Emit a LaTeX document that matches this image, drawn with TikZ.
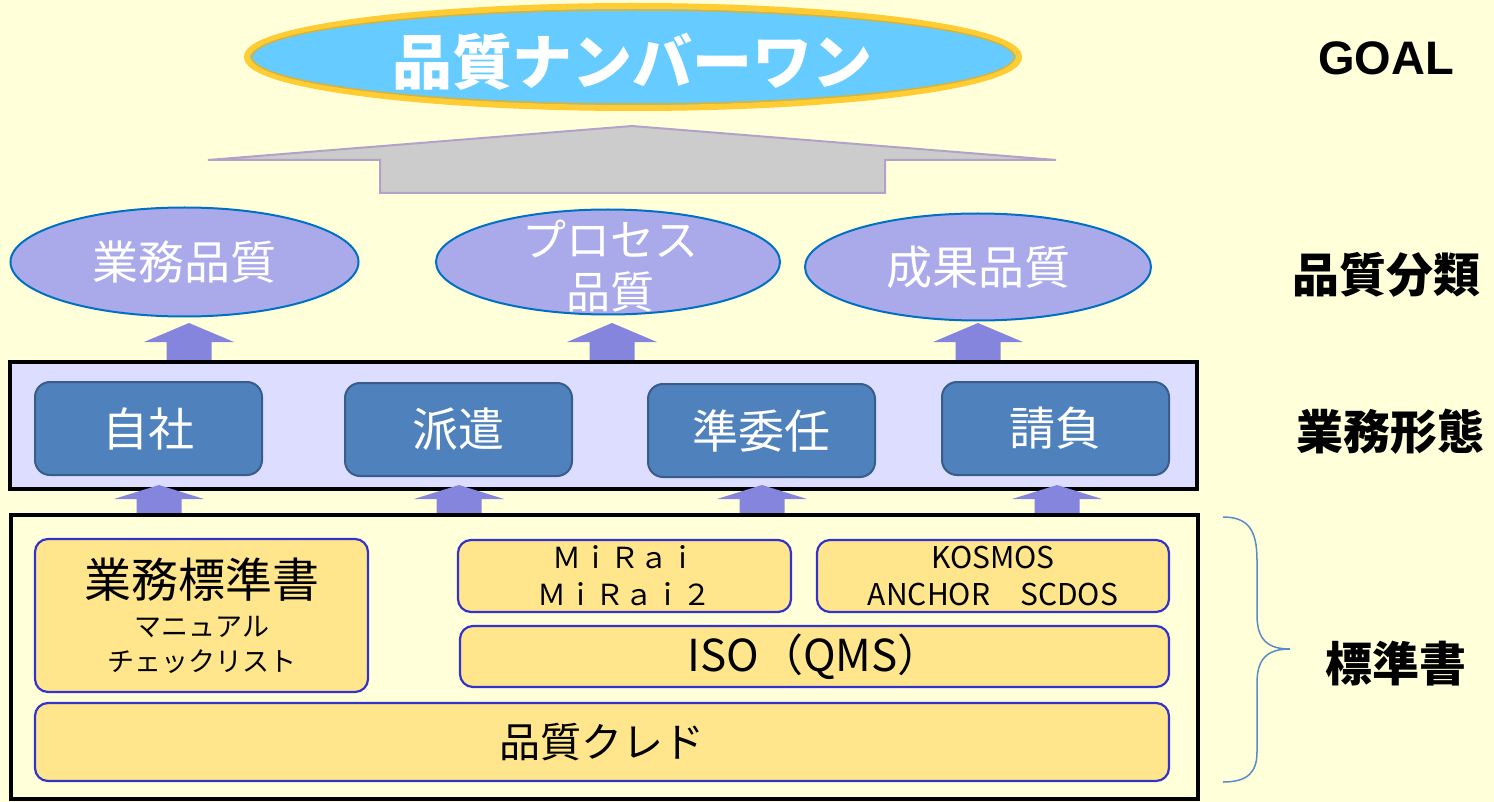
\documentclass[tikz,border=0pt]{standalone}
\usepackage{fontspec}
\usetikzlibrary{shapes.geometric}
\newfontfamily\jp{Noto Sans CJK JP}
\newfontfamily\lat{Liberation Sans}
\definecolor{bg}{HTML}{FFFFDA}
\definecolor{topfill}{HTML}{66CCFF}
\definecolor{gold}{HTML}{FFCC33}
\definecolor{darkgold}{HTML}{D6B43C}
\definecolor{grayfill}{HTML}{CCCCCC}
\definecolor{grayline}{HTML}{B3A2C7}
\definecolor{lavfill}{HTML}{AAAAEB}
\definecolor{lavline}{HTML}{0070C0}
\definecolor{arrfill}{HTML}{8585DD}
\definecolor{midfill}{HTML}{DDDDFF}
\definecolor{bluebox}{HTML}{4F81BD}
\definecolor{blueline}{HTML}{385D8A}
\definecolor{goldbox}{HTML}{FFE68C}
\definecolor{goldline}{HTML}{3333CC}
\definecolor{bracecol}{HTML}{5B8BC8}
\newcommand\blkarrow[4]{% cx, tip y, wing y, bottom y
  \fill[arrfill] ({#1-22.5},#4) -- ({#1-22.5},#3) -- ({#1-45},#3) -- (#1,#2)
    -- ({#1+45},#3) -- ({#1+22.5},#3) -- ({#1+22.5},#4) -- cycle;}
\begin{document}
\begin{tikzpicture}[x=1pt,y=-1pt,
  lav/.style={ellipse, draw=lavline, line width=2pt, fill=lavfill, inner sep=0pt,
    text=white, font=\jp\fontsize{46}{52}\selectfont, align=center},
  frame/.style={draw=black, line width=4pt, inner sep=0pt},
  bbox/.style={draw=blueline, line width=2pt, fill=bluebox, rounded corners=15pt,
    minimum width=227pt, minimum height=93pt, inner sep=0pt, text=white,
    font=\jp\fontsize{46}{50}\selectfont},
  gbox/.style={draw=goldline, line width=2.2pt, fill=goldbox, rounded corners=13pt,
    inner sep=0pt, text=black, align=center},
  side/.style={font=\jp\bfseries\fontsize{47}{50}\selectfont, text=black}
]
\useasboundingbox (0,0) rectangle (1494,802);
\fill[bg] (0,0) rectangle (1494,802);

% goal ellipse
\node (goal) [ellipse, fill=topfill, draw=gold, line width=6pt, minimum width=772pt,
  minimum height=102pt, inner sep=0pt] at (633,57) {};
\draw[darkgold, line width=1.5pt] (goal.center) ellipse (381pt and 47pt);
\node (goalt) [text=white, font=\jp\bfseries\fontsize{60}{64}\selectfont] at (632,62) {品質ナンバーワン};

% big gray arrow
\draw[fill=grayfill, draw=grayline, line width=2pt, line join=miter]
  (380,193) -- (380,160) -- (208,160) -- (632,126) -- (1056,160) -- (885,160) -- (885,193) -- cycle;

% quality ellipses
\node (e1) [lav, minimum width=348pt, minimum height=109pt] at (184.5,262) {業務品質};
\node (e2) [lav, minimum width=344pt, minimum height=105pt] at (608,262) {};
\node (e2t) [text=white, font=\jp\fontsize{44}{52}\selectfont, align=center] at (610,266) {プロセス\\品質};
\node (e3) [lav, minimum width=346pt, minimum height=107pt] at (978,267) {成果品質};

% arrows ellipses <- middle box
\blkarrow{189}{323}{342}{361}
\blkarrow{612}{323}{342}{361}
\blkarrow{978}{323}{342}{361}

% middle box
\node (mid) [frame, fill=midfill, minimum width=1187pt, minimum height=127pt] at (603.5,425.5) {};
\node (b1) [bbox] at (148.5,428.5) {自社};
\node (b2) [bbox] at (458.5,429.5) {派遣};
\node (b3) [bbox] at (761.5,430.5) {準委任};
\node (b4) [bbox] at (1055.5,428.5) {請負};

% arrows lower box -> middle box
\blkarrow{159}{485}{499}{513}
\blkarrow{459}{485}{499}{513}
\blkarrow{762}{485}{499}{513}
\blkarrow{1057}{485}{499}{513}

% lower box
\node (low) [frame, fill=bg, minimum width=1187pt, minimum height=284pt] at (604.5,657) {};
\node (g1) [gbox, minimum width=333pt, minimum height=153pt] at (201.5,615.5) {};
\node (g1a) [font=\jp\fontsize{47}{50}\selectfont] at (202,580) {業務標準書};
\node (g1b) [font=\jp\fontsize{27}{35}\selectfont, align=center] at (202,645) {マニュアル\\チェックリスト};
\node (g2) [gbox, minimum width=333pt, minimum height=72pt, font=\jp\fontsize{29}{37}\selectfont] at (624.5,576) {ＭｉＲａｉ\\ＭｉＲａｉ２};
\node (g3) [gbox, minimum width=352pt, minimum height=72pt, font=\jp\fontsize{30}{37}\selectfont] at (993,576) {KOSMOS\\ANCHOR　SCDOS};
\node (g4) [gbox, minimum width=709pt, minimum height=61pt, font=\jp\fontsize{44}{46}\selectfont] at (814.5,656.5) {ISO（QMS）};
\node (g5) [gbox, minimum width=1134pt, minimum height=78pt, font=\jp\fontsize{41}{44}\selectfont] at (602,742) {品質クレド};

% brace
\draw[bracecol, line width=1.5pt] (1223,517) .. controls (1248,517) and (1257,530) .. (1257,560)
  -- (1257,615) .. controls (1257,640) and (1268,649) .. (1290,649)
  .. controls (1268,649) and (1257,658) .. (1257,683)
  -- (1257,752) .. controls (1257,772) and (1248,782) .. (1223,782);

% side labels
\node (lgoal) [font=\lat\bfseries\fontsize{47}{50}\selectfont] at (1386,58) {GOAL};
\node (lcls) [side] at (1386,275) {品質分類};
\node (lform) [side] at (1390,432) {業務形態};
\node (lstd) [side] at (1396,664) {標準書};
\end{tikzpicture}
\end{document}
